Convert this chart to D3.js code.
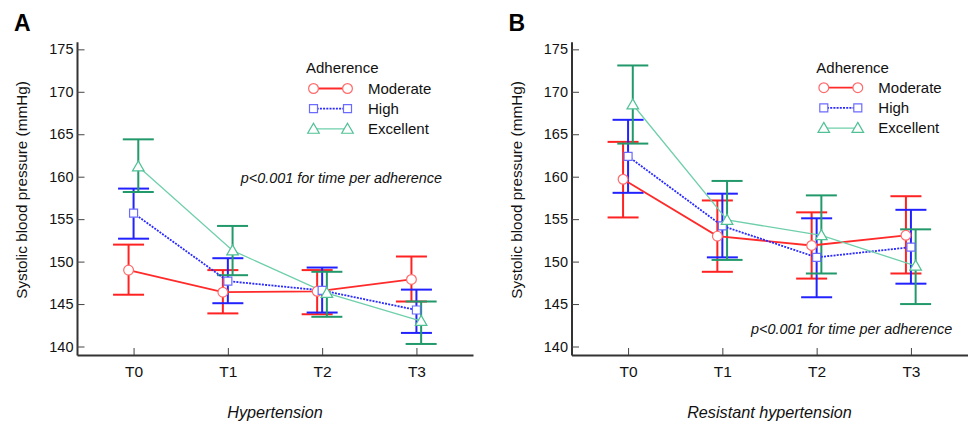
<!DOCTYPE html>
<html>
<head>
<meta charset="utf-8">
<script src="https://cdn.jsdelivr.net/npm/d3@7"></script>
<style>
  body { margin: 0; background: #fff; }
  svg { display: block; font-family: "Liberation Sans", Arial, sans-serif; }
</style>
</head>
<body>
<svg id="chart" width="968" height="423"></svg>
<script>
const timepoints = ['T0', 'T1', 'T2', 'T3']
const groups = ['Moderate', 'High', 'Excellent']
const yTicks = [140, 145, 150, 155, 160, 165, 170, 175]

// panel A - hypertension (rows: Moderate, High, Excellent)
const htnMean = [
  [149.0, 146.4, 146.5, 147.9],
  [155.7, 147.7, 146.6, 144.3],
  [161.2, 151.3, 146.3, 143.0]
]
const htnLower = [
  [146.1, 143.9, 143.8, 145.3],
  [152.7, 145.1, 144.0, 141.6],
  [158.2, 148.4, 143.5, 140.3]
]
const htnUpper = [
  [152.0, 149.0, 149.0, 150.6],
  [158.6, 150.4, 149.3, 146.7],
  [164.4, 154.2, 148.8, 145.3]
]

// panel B - resistant hypertension
const rhtnMean = [
  [159.7, 153.0, 151.9, 153.1],
  [162.4, 154.2, 150.5, 151.7],
  [168.5, 154.9, 153.1, 149.5]
]
const rhtnLower = [
  [155.2, 148.8, 148.0, 148.6],
  [158.1, 150.5, 145.8, 147.4],
  [163.9, 150.2, 148.6, 145.0]
]
const rhtnUpper = [
  [164.1, 157.2, 155.8, 157.7],
  [166.7, 158.0, 155.1, 156.1],
  [173.1, 159.5, 157.8, 153.8]
]

// look of each adherence group
const styles = [
  {bar: '#ff2222', line: '#ff2a2a', marker: '#ff6b6b', width: 1.8, dash: null, shape: d3.symbolCircle, size: 75, dx: -0.053},
  {bar: '#2222ff', line: '#2a2aff', marker: '#6b6bff', width: 1.8, dash: '2,1.2', shape: d3.symbolSquare, size: 64, dx: 0},
  {bar: '#22996b', line: '#6fcfab', marker: '#4fc195', width: 1.3, dash: null, shape: d3.symbolTriangle, size: 58, dx: 0.05}
]

const svg = d3.select('#chart')

function drawPanel({left, letter, title, mean, lower, upper, legendX, legendY, pX, pY}) {
  const x = d3.scaleLinear().domain([-0.6, 3.6]).range([left, left + 396])
  const y = d3.scaleLinear().domain([139, 175.9]).range([355, 41.7])
  const g = svg.append('g')

  // panel letter
  g.append('text')
    .attr('x', left - 63)
    .attr('y', 31)
    .attr('font-size', 23)
    .attr('font-weight', 'bold')
    .text(letter)

  // y axis, ticks pointing inward
  const yAxis = g.append('g')
    .attr('transform', `translate(${left},0)`)
    .call(d3.axisRight(y).tickValues(yTicks).tickSize(7.5).tickSizeOuter(0))
  yAxis.select('.domain').attr('stroke', '#333').attr('stroke-width', 2)
  yAxis.selectAll('.tick line').attr('stroke', '#444')
  yAxis.selectAll('.tick text')
    .attr('x', -3.5)
    .attr('text-anchor', 'end')
    .attr('font-size', 14.5)
    .attr('fill', '#111')
    .attr('font-family', '"Liberation Sans", Arial, sans-serif')

  // x axis, ticks pointing inward
  const xAxis = g.append('g')
    .attr('transform', 'translate(0,355)')
    .call(d3.axisTop(x).tickValues([0, 1, 2, 3]).tickFormat(i => timepoints[i]).tickSize(7).tickSizeOuter(0))
  xAxis.select('.domain').attr('stroke', '#333').attr('stroke-width', 2.2)
  xAxis.selectAll('.tick line').attr('stroke', '#444')
  xAxis.selectAll('.tick text')
    .attr('y', 22)
    .attr('dy', 0)
    .attr('font-size', 15.5)
    .attr('fill', '#111')
    .attr('font-family', '"Liberation Sans", Arial, sans-serif')

  // axis titles
  g.append('text')
    .attr('transform', `translate(${left - 50},190) rotate(-90)`)
    .attr('text-anchor', 'middle')
    .attr('font-size', 15.3)
    .attr('fill', '#111')
    .text('Systolic blood pressure (mmHg)')

  g.append('text')
    .attr('x', x(1.5))
    .attr('y', 418)
    .attr('text-anchor', 'middle')
    .attr('font-size', 16.2)
    .attr('font-style', 'italic')
    .attr('fill', '#111')
    .text(title)

  g.append('text')
    .attr('x', pX)
    .attr('y', pY)
    .attr('text-anchor', 'end')
    .attr('font-size', 14.4)
    .attr('font-style', 'italic')
    .attr('fill', '#111')
    .text('p<0.001 for time per adherence')

  // error bars
  groups.forEach((grp, gi) => {
    const s = styles[gi]
    const bars = g.append('g')
      .attr('stroke', s.bar)
      .attr('stroke-width', 2)
      .attr('fill', 'none')
    timepoints.forEach((t, ti) => {
      const cx = x(ti + s.dx)
      bars.append('line').attr('x1', cx).attr('x2', cx).attr('y1', y(lower[gi][ti])).attr('y2', y(upper[gi][ti]))
      bars.append('line').attr('x1', cx - 15.5).attr('x2', cx + 15.5).attr('y1', y(upper[gi][ti])).attr('y2', y(upper[gi][ti]))
      bars.append('line').attr('x1', cx - 15.5).attr('x2', cx + 15.5).attr('y1', y(lower[gi][ti])).attr('y2', y(lower[gi][ti]))
    })
  })

  // mean lines
  groups.forEach((grp, gi) => {
    const s = styles[gi]
    const line = d3.line()
      .x((d, i) => x(i + s.dx))
      .y(d => y(d))
    g.append('path')
      .datum(mean[gi])
      .attr('d', line)
      .attr('fill', 'none')
      .attr('stroke', s.line)
      .attr('stroke-width', s.width)
      .attr('stroke-dasharray', s.dash)
  })

  // markers
  groups.forEach((grp, gi) => {
    const s = styles[gi]
    g.append('g').selectAll('path')
      .data(mean[gi])
      .join('path')
      .attr('transform', (d, i) => `translate(${x(i + s.dx)},${y(d) + (gi === 2 ? 1 : 0)})`)
      .attr('d', d3.symbol().type(s.shape).size(s.size))
      .attr('fill', '#fff')
      .attr('stroke', s.marker)
      .attr('stroke-width', 1.2)
  })

  // legend
  const legend = g.append('g').attr('transform', `translate(${legendX},${legendY})`)
  legend.append('text')
    .attr('x', 0)
    .attr('y', 5)
    .attr('font-size', 15)
    .attr('fill', '#111')
    .text('Adherence')
  groups.forEach((grp, gi) => {
    const s = styles[gi]
    const row = legend.append('g').attr('transform', `translate(0,${20.2 * (gi + 1)})`)
    row.append('line')
      .attr('x1', 7.5).attr('x2', 41.5)
      .attr('stroke', s.line)
      .attr('stroke-width', s.width)
      .attr('stroke-dasharray', s.dash)
    ;[7.5, 41.5].forEach(mx => {
      row.append('path')
        .attr('transform', `translate(${mx},${gi === 2 ? 1 : 0})`)
        .attr('d', d3.symbol().type(s.shape).size(s.size))
        .attr('fill', '#fff')
        .attr('stroke', s.marker)
        .attr('stroke-width', 1.2)
    })
    row.append('text')
      .attr('x', 62)
      .attr('y', 5)
      .attr('font-size', 15)
      .attr('fill', '#111')
      .text(grp)
  })
}

drawPanel({left: 77, letter: 'A', title: 'Hypertension', mean: htnMean, lower: htnLower, upper: htnUpper,
  legendX: 306, legendY: 68.3, pX: 442, pY: 182.7})
drawPanel({left: 571.5, letter: 'B', title: 'Resistant hypertension', mean: rhtnMean, lower: rhtnLower, upper: rhtnUpper,
  legendX: 816.3, legendY: 67.5, pX: 952.3, pY: 334.3})
</script>
</body>
</html>
